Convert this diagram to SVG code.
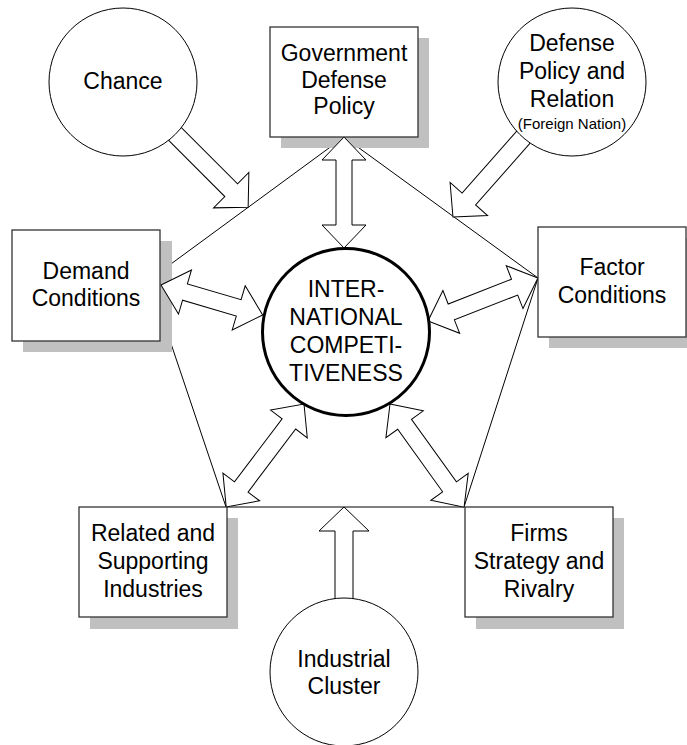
<svg xmlns="http://www.w3.org/2000/svg" width="687" height="745" viewBox="0 0 687 745">
<defs>
<style>
.t{font-family:"Liberation Sans",Arial,sans-serif;font-size:23px;fill:#000;text-anchor:middle}
.s{font-size:15px}
.ln{stroke:#000;stroke-width:1;fill:none}
.shadow{fill:#c0c0c0;stroke:none}
.box{fill:#fff;stroke:#333;stroke-width:1.3}
.circ{fill:#fff;stroke:#000;stroke-width:1}
.main{fill:#fff;stroke:#000;stroke-width:3}
.arr{fill:#fff;stroke:#000;stroke-width:1;stroke-linejoin:miter}
</style>
</defs>
<rect width="687" height="745" fill="#fff"/>
<g id="connectors-lines">
<polyline class="ln" points="160,272 344,137 538,278 464,507 226,507 160,311"/>
</g>
<g id="shadows">
<rect class="shadow" x="281" y="38" width="148" height="110"/>
<rect class="shadow" x="23" y="241" width="149" height="111"/>
<rect class="shadow" x="549" y="238" width="148" height="110"/>
<rect class="shadow" x="90" y="518" width="148" height="111"/>
<rect class="shadow" x="476" y="518" width="148" height="111"/>
</g>
<g id="connectors">
<polygon class="arr" transform="translate(344,137) rotate(90)" points="0,0 23,-22 23,-8 88,-8 88,-22 111,0 88,22 88,8 23,8 23,22"/>
<polygon class="arr" transform="translate(161,285) rotate(16.4)" points="0,0 25,-23 25,-8.5 81,-8.5 81,-23 106,0 81,23 81,8.5 25,8.5 25,23"/>
<polygon class="arr" transform="translate(428,321) rotate(-21.35)" points="0,0 25,-23 25,-8.5 93,-8.5 93,-23 118,0 93,23 93,8.5 25,8.5 25,23"/>
<polygon class="arr" transform="translate(304,404) rotate(127.1)" points="0,0 25,-23 25,-8.5 104,-8.5 104,-23 129,0 104,23 104,8.5 25,8.5 25,23"/>
<polygon class="arr" transform="translate(390,404) rotate(54.3)" points="0,0 25,-23 25,-8.5 102,-8.5 102,-23 127,0 102,23 102,8.5 25,8.5 25,23"/>
<polygon class="arr" transform="translate(123,82) rotate(45)" points="0,-9 153,-9 153,-25 177,0 153,25 153,9 0,9"/>
<polygon class="arr" transform="translate(572,82) rotate(131.4)" points="0,-9 156,-9 156,-25 180,0 156,25 156,9 0,9"/>
<polygon class="arr" transform="translate(344,672) rotate(-90)" points="0,-9 141,-9 141,-25 165,0 141,25 141,9 0,9"/>
</g>
<g id="gov">
<rect class="box" x="270" y="27" width="148" height="110"/>
<text class="t" x="344" y="61">Government</text>
<text class="t" x="344" y="87.5">Defense</text>
<text class="t" x="344" y="114">Policy</text>
</g>
<g id="chance">
<circle class="circ" cx="123" cy="82" r="74"/>
<text class="t" x="123" y="89">Chance</text>
</g>
<g id="foreign">
<circle class="circ" cx="572" cy="82" r="74"/>
<text class="t" x="572" y="51">Defense</text>
<text class="t" x="572" y="79">Policy and</text>
<text class="t" x="572" y="107">Relation</text>
<text class="t s" x="572" y="129">(Foreign Nation)</text>
</g>
<g id="demand">
<rect class="box" x="12" y="230" width="148" height="111"/>
<text class="t" x="86" y="279">Demand</text>
<text class="t" x="86" y="306">Conditions</text>
</g>
<g id="factor">
<rect class="box" x="538" y="227" width="148" height="110"/>
<text class="t" x="612" y="275">Factor</text>
<text class="t" x="612" y="303">Conditions</text>
</g>
<g id="center">
<circle class="main" cx="346" cy="332" r="83.5"/>
<text class="t" x="346" y="297">INTER-</text>
<text class="t" x="346" y="325">NATIONAL</text>
<text class="t" x="346" y="353">COMPETI-</text>
<text class="t" x="346" y="381">TIVENESS</text>
</g>
<g id="related">
<rect class="box" x="79" y="507" width="148" height="110"/>
<text class="t" x="153" y="541">Related and</text>
<text class="t" x="153" y="569">Supporting</text>
<text class="t" x="153" y="597">Industries</text>
</g>
<g id="firms">
<rect class="box" x="465" y="507" width="148" height="110"/>
<text class="t" x="539" y="541">Firms</text>
<text class="t" x="539" y="569">Strategy and</text>
<text class="t" x="539" y="597">Rivalry</text>
</g>
<g id="cluster">
<circle class="circ" cx="344" cy="672" r="74"/>
<text class="t" x="344" y="667">Industrial</text>
<text class="t" x="344" y="694">Cluster</text>
</g>
</svg>
